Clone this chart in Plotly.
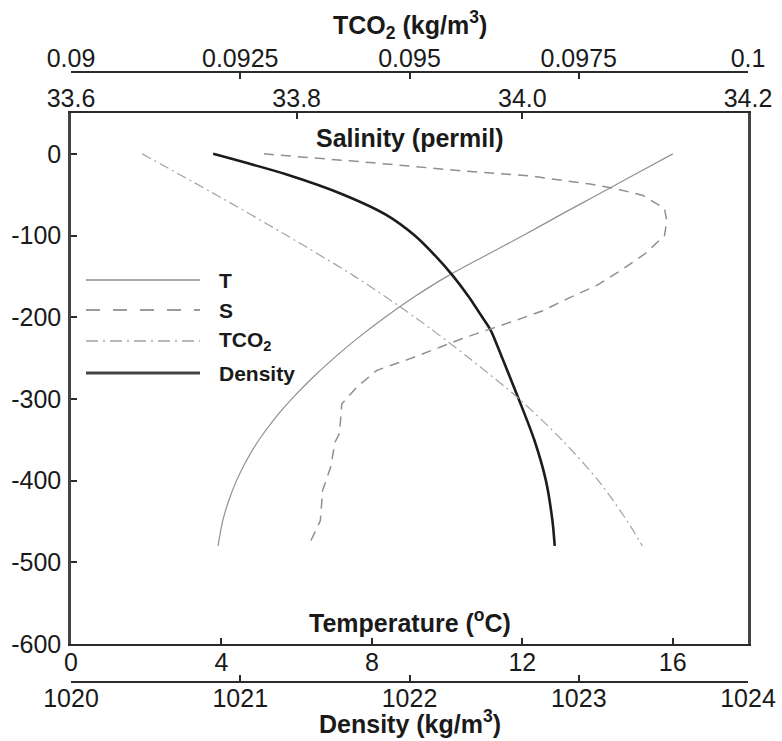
import plotly.graph_objects as go

# ---- profile data (depth in m, negative downward) ----
depth_T = [0, -25, -50, -75, -100, -125, -150, -175, -200, -225, -250,
           -275, -300, -325, -350, -375, -400, -425, -450, -480]
temperature = [16.0, 15.0, 14.0, 13.0, 12.02, 11.0, 10.0, 9.13, 8.35, 7.64,
               6.99, 6.40, 5.87, 5.40, 5.00, 4.67, 4.40, 4.19, 4.03, 3.91]

depth_S = [0, -11, -21, -27, -32, -37, -43, -51, -67, -82, -100, -122, -143,
           -161, -176, -192, -202, -226, -251, -265, -286, -306, -342, -353,
           -384, -412, -449, -481]
salinity = [33.771, 33.868, 33.948, 34.007, 34.033, 34.060, 34.084, 34.107,
            34.126, 34.128, 34.126, 34.109, 34.087, 34.066, 34.042, 34.018,
            33.998, 33.947, 33.900, 33.871, 33.853, 33.840, 33.838, 33.834,
            33.830, 33.823, 33.821, 33.810]

depth_C = [0, -50, -100, -150, -200, -250, -300, -350, -400, -450, -480]
tco2 = [0.09105, 0.09214, 0.09319, 0.09419, 0.09508, 0.09588, 0.09662,
        0.09725, 0.09779, 0.09822, 0.09844]

depth_D = [0, -25, -50, -75, -100, -125, -150, -175, -200, -216, -250,
           -300, -350, -400, -450, -480]
density = [1020.84, 1021.27, 1021.61, 1021.865, 1022.031, 1022.153, 1022.259,
           1022.35, 1022.43, 1022.48, 1022.548, 1022.645, 1022.737, 1022.806,
           1022.845, 1022.858]

# ---- axis ticks ----
depth_ticks = [0, -100, -200, -300, -400, -500, -600]
depth_labels = ["0", "-100", "-200", "-300", "-400", "-500", "-600"]
temp_ticks = [0, 4, 8, 12, 16]
dens_ticks = [1020, 1021, 1022, 1023, 1024]
sal_ticks = [33.6, 33.8, 34.0, 34.2]
sal_labels = ["33.6", "33.8", "34.0", "34.2"]
tco2_ticks = [0.09, 0.0925, 0.095, 0.0975, 0.1]
tco2_labels = ["0.09", "0.0925", "0.095", "0.0975", "0.1"]

FONT = "Liberation Sans, Arial, Helvetica, sans-serif"
TXT = "#1a1a1a"
AX = "#2b2b2b"

# pixel layout of the figure
W, H = 782, 741
L, R, T, B = 71, 34, 72, 59
PW, PH = W - L - R, H - T - B


def px(xp):
    return (xp - L) / PW


def py(yp):
    return (H - B - yp) / PH


fig = go.Figure()

fig.add_trace(go.Scatter(
    x=temperature, y=depth_T, mode="lines", xaxis="x", yaxis="y",
    line=dict(color="#909090", width=1.2, shape="spline", smoothing=0.8),
    showlegend=False, hoverinfo="skip"))

fig.add_trace(go.Scatter(
    x=salinity, y=depth_S, mode="lines", xaxis="x3", yaxis="y",
    line=dict(color="#8f8f8f", width=1.5, dash="10px,7px"),
    showlegend=False, hoverinfo="skip"))

fig.add_trace(go.Scatter(
    x=tco2, y=depth_C, mode="lines", xaxis="x4", yaxis="y",
    line=dict(color="#a3a3a3", width=1.2, dash="10px,4px,2px,4px",
              shape="spline", smoothing=0.8),
    showlegend=False, hoverinfo="skip"))

fig.add_trace(go.Scatter(
    x=density, y=depth_D, mode="lines", xaxis="x2", yaxis="y",
    line=dict(color="#1c1c1c", width=2.6, shape="spline", smoothing=0.7),
    showlegend=False, hoverinfo="skip"))

y_dom = [py(644), py(113)]

common_x = dict(showgrid=False, zeroline=False, showline=True, linecolor=AX,
                linewidth=2, ticks="inside", ticklen=6, tickwidth=1.5,
                tickcolor=AX, automargin=False,
                tickfont=dict(family=FONT, size=25, color=TXT))

fig.update_layout(
    width=W, height=H, autosize=False,
    margin=dict(l=L, r=R, t=T, b=B, pad=0, autoexpand=False),
    plot_bgcolor="white", paper_bgcolor="white",
    showlegend=False,
    xaxis=dict(range=[0, 18], tickvals=temp_ticks, side="bottom", anchor="y",
               ticklabelstandoff=-5, **common_x),
    xaxis2=dict(range=[1020, 1024], tickvals=dens_ticks, side="bottom",
                overlaying="x", anchor="free", position=0,
                ticklabelstandoff=-6, **common_x),
    xaxis3=dict(range=[33.6, 34.2], tickvals=sal_ticks, ticktext=sal_labels,
                side="top", overlaying="x", anchor="y",
                ticklabelstandoff=-6, **common_x),
    xaxis4=dict(range=[0.09, 0.1], tickvals=tco2_ticks, ticktext=tco2_labels,
                side="top", overlaying="x", anchor="free", position=1,
                ticklabelstandoff=-6, **common_x),
    yaxis=dict(range=[-600, 50], domain=y_dom, tickvals=depth_ticks,
               ticktext=depth_labels, automargin=False,
               showgrid=False, zeroline=False, showline=True, mirror=True,
               linecolor="#444444", linewidth=2.5, ticks="inside", ticklen=6,
               tickwidth=1.5, tickcolor=AX, ticklabelstandoff=2,
               tickfont=dict(family=FONT, size=25, color=TXT)),
)

# axis titles
titles = [
    ("TCO<sub>2</sub> (kg/m<sup>3</sup>)", 25),
    ("Salinity (permil)", 138),
    ("Temperature (<sup>o</sup>C)", 621),
    ("Density (kg/m<sup>3</sup>)", 722),
]
for text, ypix in titles:
    fig.add_annotation(text=f"<b>{text}</b>", xref="paper", yref="paper",
                       x=px(409.5), y=py(ypix), xanchor="center",
                       yanchor="middle", showarrow=False,
                       font=dict(family=FONT, size=25, color=TXT))

# legend keys
legend_rows = [
    ("T", 280, dict(color="#8c8c8c", width=1.5, dash="solid")),
    ("S", 310, dict(color="#9a9a9a", width=1.8, dash="14px,13px")),
    ("TCO<sub>2</sub>", 341, dict(color="#a3a3a3", width=1.5,
                                  dash="12px,5px,2px,5px")),
    ("Density", 373, dict(color="#444444", width=3, dash="solid")),
]
for label, ypix, line in legend_rows:
    fig.add_shape(type="line", xref="paper", yref="paper",
                  x0=px(86), x1=px(200), y0=py(ypix), y1=py(ypix), line=line)
    fig.add_annotation(text=f"<b>{label}</b>", xref="paper", yref="paper",
                       x=px(217), y=py(ypix), xanchor="left", yanchor="middle",
                       showarrow=False,
                       font=dict(family=FONT, size=21, color=TXT))

fig.write_html("out.html")
